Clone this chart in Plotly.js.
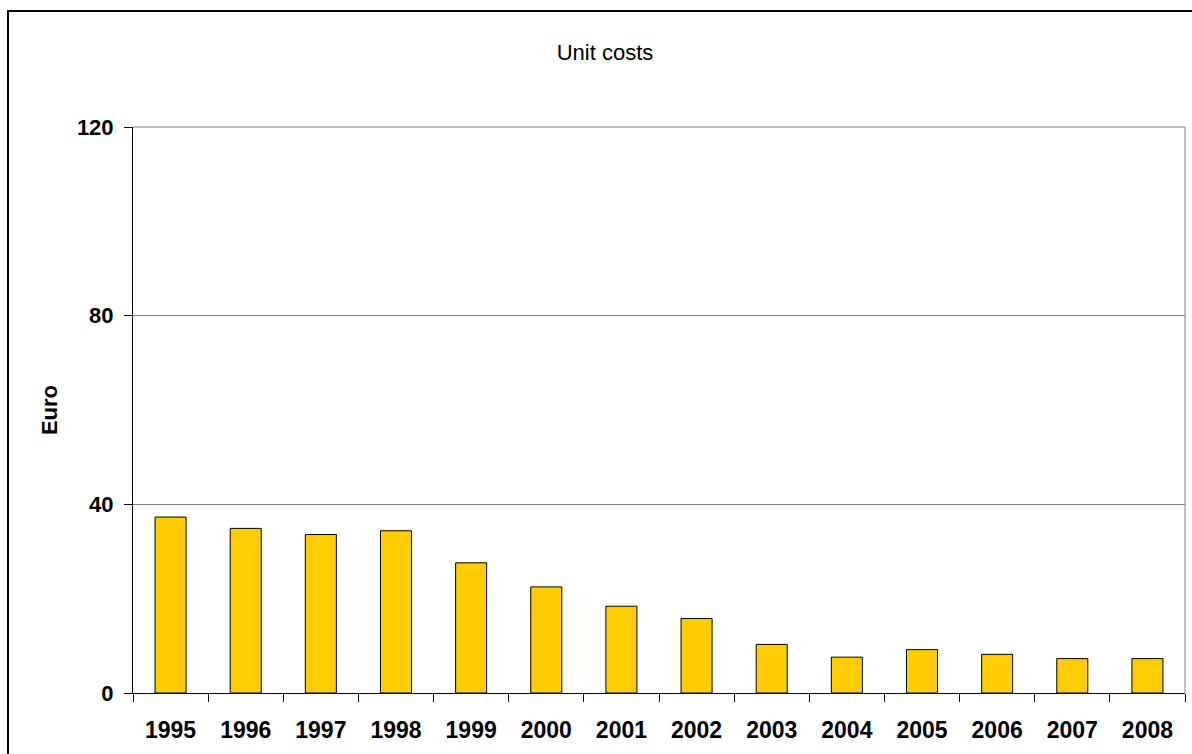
<!DOCTYPE html>
<html>
<head>
<meta charset="utf-8">
<script src="https://cdn.plot.ly/plotly-3.0.1.min.js"></script>
<style>
  html, body { margin: 0; padding: 0; background: #ffffff; }
  #wrap { position: relative; width: 1192px; height: 754px; overflow: hidden; }
  #chart { width: 1192px; height: 754px; }
  #frame {
    position: absolute; left: 7px; top: 10px; width: 1200px; height: 800px;
    border-left: 2px solid #000; border-top: 2px solid #000;
    pointer-events: none; box-sizing: border-box;
  }
</style>
</head>
<body>
<div id="wrap">
  <div id="chart"></div>
  <div id="frame"></div>
</div>
<script>
// Unit costs per year, in euro
const years = ['1995', '1996', '1997', '1998', '1999', '2000', '2001',
               '2002', '2003', '2004', '2005', '2006', '2007', '2008'];
const unitCosts = [37.3, 34.9, 33.6, 34.4, 27.6, 22.5, 18.4,
                   15.8, 10.3, 7.6, 9.2, 8.2, 7.3, 7.3];
const yTicks = [0, 40, 80, 120];

const font = 'Arial, "Liberation Sans", sans-serif';

const trace = {
  type: 'bar',
  x: years,
  y: unitCosts,
  marker: { color: '#FFCC00', line: { color: '#000000', width: 1 } },
  hoverinfo: 'x+y'
};

const layout = {
  width: 1192,
  height: 754,
  margin: { l: 133, r: 7, t: 127, b: 61, pad: 0 },
  paper_bgcolor: '#ffffff',
  plot_bgcolor: '#ffffff',
  showlegend: false,
  bargap: 0.587,
  title: {
    text: 'Unit costs',
    font: { family: font, size: 22, color: '#000000' },
    x: 605 / 1192, xref: 'container', xanchor: 'center',
    y: 1 - 52 / 754, yref: 'container', yanchor: 'middle'
  },
  xaxis: {
    type: 'category',
    showline: true, linecolor: '#000000', linewidth: 1,
    ticks: 'outside', tickson: 'boundaries', ticklen: 8, tickcolor: '#000000', tickwidth: 1,
    ticklabelstandoff: 16,
    tickfont: { family: font, size: 23, color: '#000000', weight: 'bold' },
    showgrid: false, zeroline: false, fixedrange: true
  },
  yaxis: {
    range: [0, 120],
    tickvals: yTicks,
    ticktext: yTicks.map(String),
    showline: true, linecolor: '#000000', linewidth: 1,
    ticks: 'outside', ticklen: 8, tickcolor: '#000000', tickwidth: 1,
    ticklabelstandoff: 6,
    tickfont: { family: font, size: 22, color: '#000000', weight: 'bold' },
    showgrid: true, gridcolor: '#808080', gridwidth: 1,
    zeroline: false, fixedrange: true,
    title: {
      text: 'Euro',
      font: { family: font, size: 22, color: '#000000', weight: 'bold' },
      standoff: 13
    }
  },
  shapes: [
    // grey frame on the top and right of the plot area
    {
      type: 'line', xref: 'paper', yref: 'paper',
      x0: 1, x1: 1, y0: 0, y1: 1,
      line: { color: '#808080', width: 1 }
    },
    {
      type: 'line', xref: 'paper', yref: 'paper',
      x0: 0, x1: 1, y0: 1, y1: 1,
      line: { color: '#808080', width: 1 }
    }
  ]
};

Plotly.newPlot('chart', [trace], layout, { staticPlot: true, displayModeBar: false });
</script>
</body>
</html>
